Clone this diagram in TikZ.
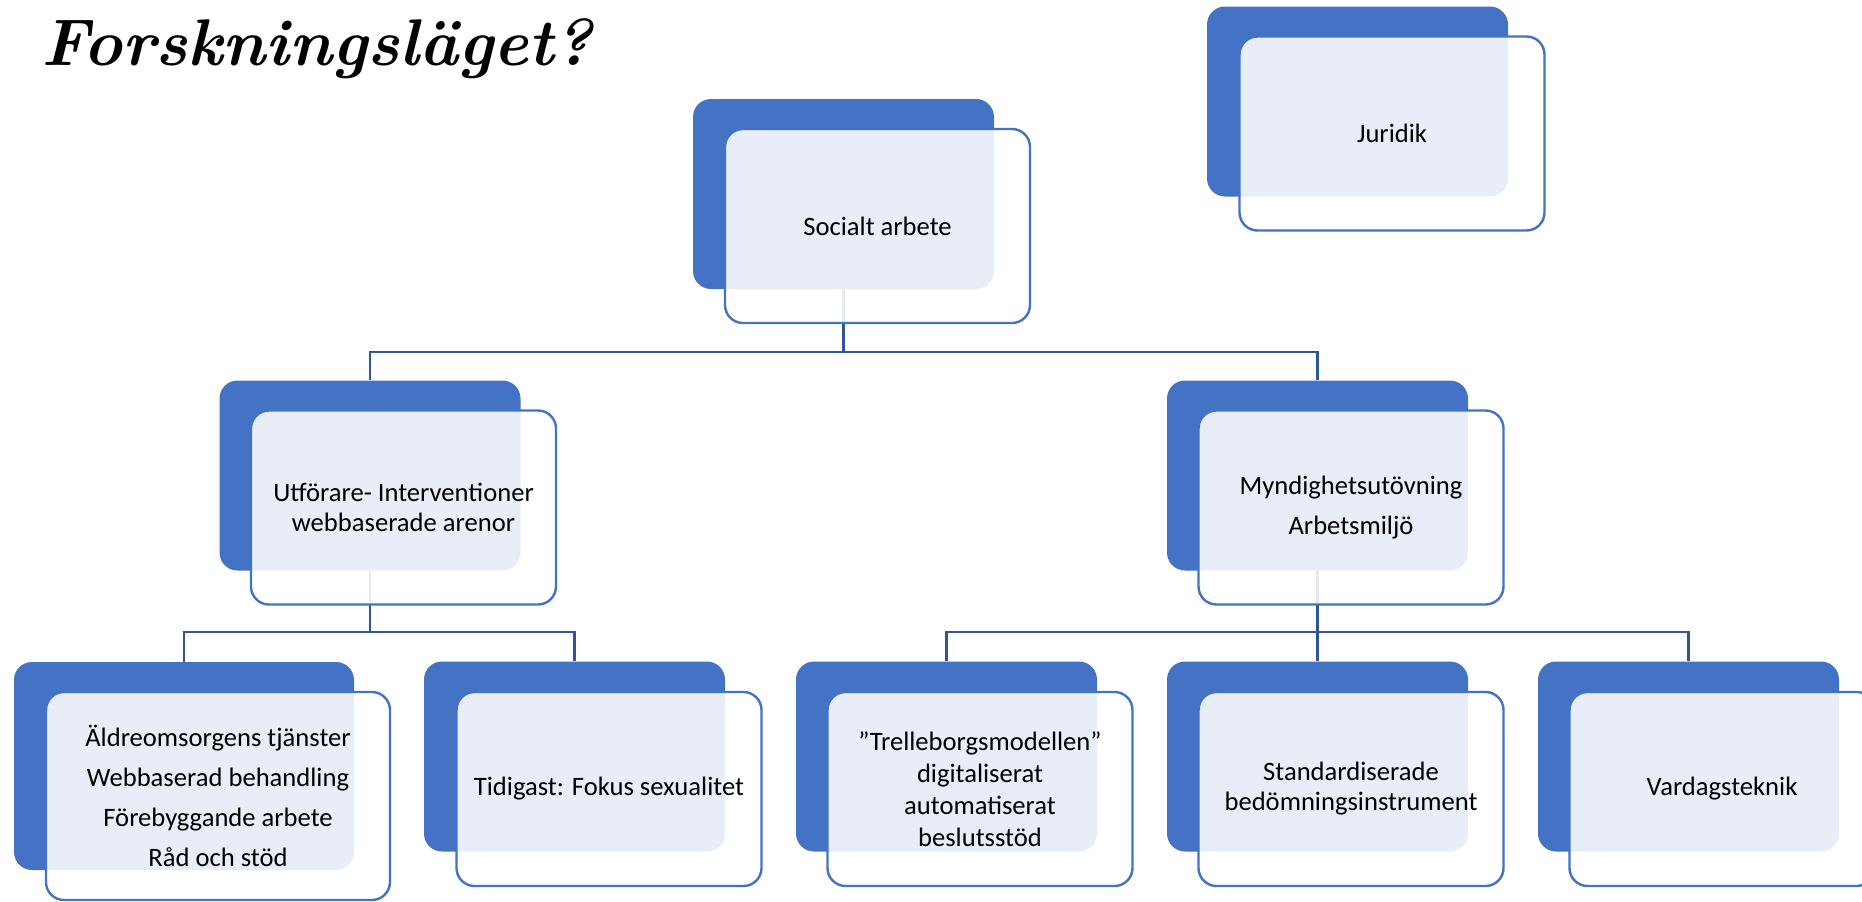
\documentclass[tikz,border=0pt]{standalone}
\usepackage{fontspec}
\usetikzlibrary{backgrounds}
\newfontfamily\bodyfont{Carlito}
\definecolor{accent}{RGB}{68,114,196}
\definecolor{linkblue}{RGB}{47,85,151}
\begin{document}
\begin{tikzpicture}[x=0.5pt,y=-0.5pt,
  back/.style={fill=accent, draw=none, rounded corners=9pt,
    minimum width=150.5pt, minimum height=95pt, inner sep=0pt},
  front/.style={fill=white, fill opacity=0.88, text opacity=1,
    draw=accent, draw opacity=1, line width=1.2pt, rounded corners=9pt,
    minimum width=152.5pt, minimum height=97pt, inner sep=2pt,
    align=center, font=\bodyfont\fontsize{13.3}{15}\selectfont},
  wideback/.style={back, minimum width=170pt, minimum height=104pt},
  widefront/.style={front, minimum width=172pt, minimum height=104pt},
  conn/.style={draw=linkblue, line width=1.25pt},
]
\useasboundingbox (0,0) rectangle (1862,901);

% heading
\node[anchor=base west, inner sep=0pt,
  font=\fontsize{33}{38}\selectfont\bfseries\itshape] (title) at (41,65) {Forskningsläget?};

% top level
\node[back] (sab) at (843.5,194) {};
\node[front] (sa) at (877.5,226) {Socialt arbete};
\node[back] (jub) at (1357.5,101.5) {};
\node[front] (ju) at (1392,133.5) {Juridik};

% second level
\node[back] (utb) at (370,475.5) {};
\node[front] (ut) at (403.5,507.5) {Utförare- Interventioner\\webbaserade arenor};
\node[back] (myb) at (1317.5,475.5) {};
\node[front] (my) at (1351,507.5) {Myndighetsutövning\\[5pt]Arbetsmiljö};

% third level
\node[wideback] (l1b) at (184,766) {};
\node[widefront] (l1) at (218,796) {Äldreomsorgens tjänster\\[5pt]Webbaserad behandling\\[5pt]Förebyggande arbete\\[5pt]Råd och stöd};
\node[back] (l2b) at (574.5,756.5) {};
\node[front] (l2) at (609,789) {Tidigast: Fokus sexualitet};
\node[back] (l3b) at (946.5,756.5) {};
\node[front] (l3) at (980,789) {”Trelleborgsmodellen”\\[1pt]digitaliserat\\[1pt]automatiserat\\[1pt]beslutsstöd};
\node[back] (l4b) at (1317.5,756.5) {};
\node[front] (l4) at (1351,789) {Standardiserade\\bedömningsinstrument};
\node[back] (l5b) at (1688.5,756.5) {};
\node[front] (l5) at (1722,789) {Vardagsteknik};

% branch points
\coordinate (j1) at (843.5,352);
\coordinate (j2) at (370,632);
\coordinate (j3) at (1317.5,632);

\begin{pgfonlayer}{background}
  \draw[conn] (sab.south) -- (j1) -| (utb.north);
  \draw[conn] (j1) -| (myb.north);
  \draw[conn] (utb.south) -- (j2) -| (l1b.north);
  \draw[conn] (j2) -| (l2b.north);
  \draw[conn] (myb.south) -- (j3) -| (l3b.north);
  \draw[conn] (j3) -- (l4b.north);
  \draw[conn] (j3) -| (l5b.north);
\end{pgfonlayer}
\end{tikzpicture}
\end{document}
